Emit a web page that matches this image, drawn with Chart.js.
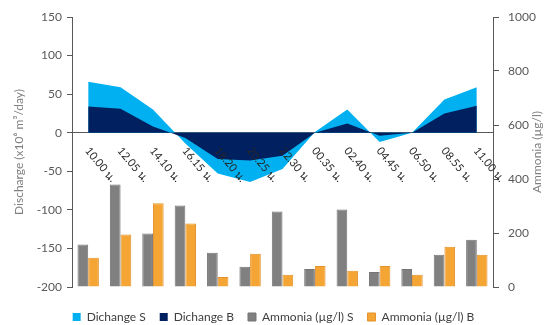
<!DOCTYPE html>
<html>
<head>
<meta charset="utf-8">
<script src="https://cdn.jsdelivr.net/npm/chart.js@4"></script>
<style>
  html, body { margin: 0; padding: 0; background: #fff; }
  #caja { width: 547px; height: 325px; }
</style>
</head>
<body>
<div id="caja"><canvas id="chartDescarga"></canvas></div>
<script>
// Horas de muestreo
const horas = ["10.00 น.", "12.05 น.", "14.10 น.", "16.15 น.", "18.20 น.", "20.25 น.", "22.30 น.",
  "00.35 น.", "02.40 น.", "04.45 น.", "06.50 น.", "08.55 น.", "11.00 น."];

// Caudal (x10^6 m3/día), superficie y fondo
const descargaS = [66, 59, 30, -14, -53, -64, -47, 1, 30, -12, 0, 43, 59];
const descargaB = [34, 31, 8, -7, -34, -36, -30, 0, 12, -4, 0, 25, 35];

// Amonio (µg/l), superficie y fondo
const amonioS = [157, 380, 198, 302, 127, 75, 280, 67, 287, 56, 67, 119, 175];
const amonioB = [108, 194, 310, 235, 37, 123, 45, 78, 60, 78, 45, 149, 119];

const fuente = "Lato, 'DejaVu Sans', sans-serif";
const gris = "#595959";

// Etiquetas de hora giradas bajo la línea de cero y título del eje derecho
const etiquetasHoras = {
  id: "etiquetasHoras",
  afterDatasetsDraw(chart) {
    const { ctx, chartArea, scales: { x, y } } = chart;
    const y0 = y.getPixelForValue(0);
    ctx.save();
    ctx.font = "11px " + fuente;
    ctx.fillStyle = "#262626";
    ctx.textAlign = "left";
    ctx.textBaseline = "middle";
    horas.forEach((h, i) => {
      ctx.save();
      ctx.translate(x.getPixelForValue(i) - 1, y0 + 16);
      ctx.rotate(50 * Math.PI / 180);
      ctx.fillText(h, 0, 0);
      ctx.restore();
    });
    ctx.restore();

    ctx.save();
    ctx.font = "12px " + fuente;
    ctx.fillStyle = "#7f7f7f";
    ctx.textAlign = "center";
    ctx.textBaseline = "middle";
    ctx.translate(537, (chartArea.top + chartArea.bottom) / 2);
    ctx.rotate(-Math.PI / 2);
    ctx.fillText("Ammonia (µg/l)", 0, 0);
    ctx.restore();
  }
};

new Chart(document.getElementById("chartDescarga"), {
  type: "bar",
  data: {
    labels: horas,
    datasets: [
      {
        type: "line",
        label: "Dichange S",
        data: descargaS,
        yAxisID: "y",
        backgroundColor: "#00B0F0",
        borderColor: "#00B0F0",
        borderWidth: 0,
        pointRadius: 0,
        fill: "origin",
        order: 2
      },
      {
        type: "line",
        label: "Dichange B",
        data: descargaB,
        yAxisID: "y",
        backgroundColor: "#002060",
        borderColor: "#002060",
        borderWidth: 0,
        pointRadius: 0,
        fill: "origin",
        order: 1
      },
      {
        label: "Ammonia (µg/l) S",
        data: amonioS,
        yAxisID: "y2",
        backgroundColor: "#808080",
        borderColor: "#757575",
        borderWidth: 1,
        barPercentage: 1,
        categoryPercentage: 0.66,
        order: 3
      },
      {
        label: "Ammonia (µg/l) B",
        data: amonioB,
        yAxisID: "y2",
        backgroundColor: "#F4A533",
        borderColor: "#E3912A",
        borderWidth: 1,
        barPercentage: 1,
        categoryPercentage: 0.66,
        order: 4
      }
    ]
  },
  options: {
    responsive: true,
    maintainAspectRatio: false,
    animation: false,
    layout: { padding: { top: 17, bottom: -8, left: 0, right: 0 } },
    plugins: {
      tooltip: { enabled: false },
      legend: {
        position: "bottom",
        // título vacío: sólo deja aire encima de la leyenda
        title: { display: true, text: "", font: { size: 5 }, padding: { top: 4, bottom: 0 } },
        labels: {
          boxWidth: 8,
          boxHeight: 8,
          padding: 14,
          color: "#404040",
          font: { family: fuente, size: 12 },
          sort: (a, b) => a.datasetIndex - b.datasetIndex
        }
      }
    },
    scales: {
      x: {
        position: { y: 0 },
        offset: true,
        z: 1,
        grid: { display: false },
        ticks: { display: false },
        border: { color: gris, width: 1 }
      },
      y: {
        position: "left",
        min: -200,
        max: 150,
        ticks: { stepSize: 50, color: gris, padding: 5, font: { family: fuente, size: 12 } },
        grid: { drawOnChartArea: false, tickLength: 5, color: gris },
        border: { color: gris },
        title: {
          display: true,
          text: "Discharge (x10⁶ m³/day)",
          color: "#7f7f7f",
          font: { family: fuente, size: 12 },
          padding: { top: 12, bottom: 0 }
        },
        afterFit(scale) { scale.width = 72; }
      },
      y2: {
        position: "right",
        min: 0,
        max: 1000,
        ticks: { stepSize: 200, color: gris, padding: 9, font: { family: fuente, size: 12 }, callback: v => v },
        grid: { drawOnChartArea: false, tickLength: 6, color: gris },
        border: { color: gris },
        afterFit(scale) { scale.width = 54; }
      }
    }
  },
  plugins: [etiquetasHoras]
});
</script>
</body>
</html>
